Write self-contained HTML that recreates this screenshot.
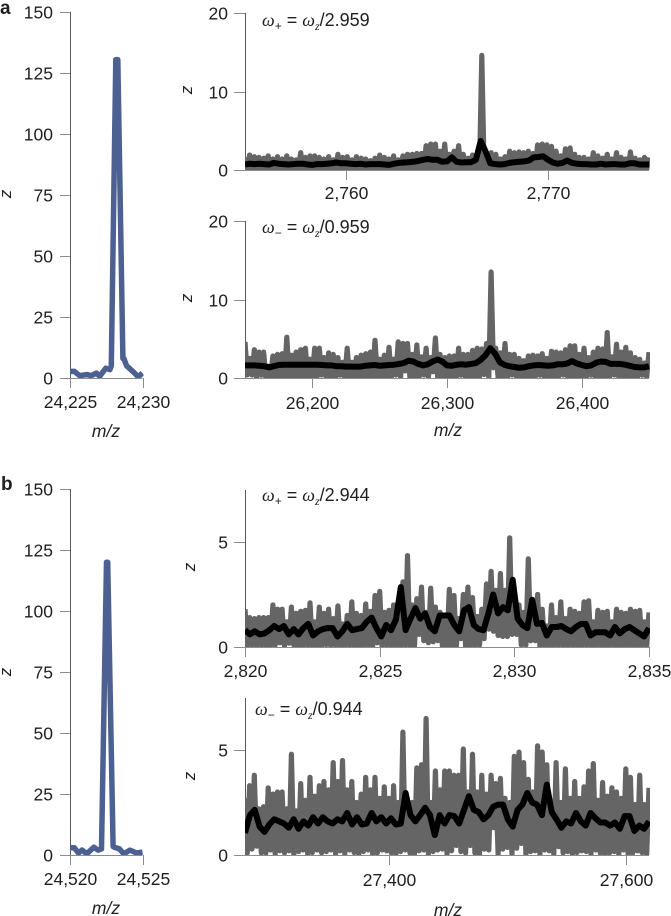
<!DOCTYPE html>
<html lang="en">
<head>
<meta charset="utf-8">
<title>Spectra panels a and b</title>
<style>
html,body{margin:0;padding:0;background:#fff;width:671px;height:916px;overflow:hidden}
svg{display:block}
text{font-family:"Liberation Sans",Arial,sans-serif;fill:#1f1f1f}
.anno{font-size:18px}
.om{font-family:"Liberation Serif",serif;font-style:italic}
.sub{font-size:12px}
</style>
</head>
<body>
<svg id="fig" xmlns="http://www.w3.org/2000/svg" width="671" height="916" viewBox="0 0 671 916">
  <text x="0" y="14" font-size="19" font-weight="700" fill="#000">a</text>
  <text x="1" y="490" font-size="19" font-weight="700" fill="#000">b</text>

  <text class="anno" x="262" y="26"><tspan class="om">ω</tspan><tspan class="sub" dy="4">+</tspan><tspan dy="-4"> = </tspan><tspan class="om">ω</tspan><tspan class="sub om" dy="4">z</tspan><tspan dy="-4">/2.959</tspan></text>
  <text class="anno" x="262" y="233"><tspan class="om">ω</tspan><tspan class="sub" dy="4">−</tspan><tspan dy="-4"> = </tspan><tspan class="om">ω</tspan><tspan class="sub om" dy="4">z</tspan><tspan dy="-4">/0.959</tspan></text>
  <text class="anno" x="262" y="501"><tspan class="om">ω</tspan><tspan class="sub" dy="4">+</tspan><tspan dy="-4"> = </tspan><tspan class="om">ω</tspan><tspan class="sub om" dy="4">z</tspan><tspan dy="-4">/2.944</tspan></text>
  <text class="anno" x="255" y="715"><tspan class="om">ω</tspan><tspan class="sub" dy="4">−</tspan><tspan dy="-4"> = </tspan><tspan class="om">ω</tspan><tspan class="sub om" dy="4">z</tspan><tspan dy="-4">/0.944</tspan></text>
</svg>
<script>
// Left panels: m/z and intensity
const aLeftMz = [24225,24225.3,24225.66,24226.17,24226.47,24226.82,24227.05,24227.47,24227.75,24227.85,24228.16,24228.3,24228.65,24228.72,24228.9,24229.37,24229.7,24230];
const aLeftZ = [2.7,2.7,1,1.4,1,2,.7,4,3.4,5,130.5,130.5,8,8,5,2.5,.5,2];
const bLeftMz = [24520,24520.3,24520.58,24520.83,24521.16,24521.64,24521.94,24522.17,24522.52,24522.6,24522.97,24523.13,24523.39,24523.71,24524.13,24524.6,24525];
const bLeftZ = [3,3,.8,2,.5,3.2,2,2.5,120,120,3.5,3,2.6,.5,2,.8,1.2];

// Panel a, omega plus
const aPlusHigh = [1.6,1.9,1.7,1.6,1.5,1.8,1.4,1.7,1.4,1.8,1.4,1.3,2.2,1.6,1.8,1.8,1.6,1.4,1.7,1.3,2,1.6,1.7,1.3,1.7,1.5,1.4,1.2,1.5,1.9,1.6,1.4,1.8,1.3,1.8,2,2,2.1,2.1,3.1,3.3,3.3,2.4,3.3,2,2.4,3.1,2,1.5,1.9,2,14.6,2,2.2,2,1.4,1.7,2.4,2.2,2.3,2.2,2.4,2.1,3.2,3.3,3.2,3,2.4,1.8,2.7,2.8,2,1.6,1.6,1.4,2.2,1.8,1.5,2,1.4,2.2,1.6,1.4,2.3,1.5,1.3,1.6,1.6];
const aPlusLow = [.1,.05,.1,.1,.05,.1,.1,.05,.1,.1,.05,.1,.1,.05,.1,.1,.05,.1,.1,.05,.1,.1,.05,.1,.1,.05,.1,.1,.05,.1,.1,.05,.1,.1,.05,.1,.1,.05,.1,.1,.05,.1,.1,.05,.1,.1,.05,.1,.1,.05,.1,.1,.05,.1,.1,.05,.1,.1,.05,.1,.1,.05,.1,.1,.05,.1,.1,.05,.1,.1,.05,.1,.1,.05,.1,.1,.05,.1,.1,.05,.1,.1,.05,.1,.1,.05,.1,.1];
const aPlusMean = [.7,.8,.75,.8,.75,.7,.9,.8,.75,.7,.75,.8,.8,.7,.65,.75,.75,.8,.85,.95,.85,.85,.8,.75,.8,.7,.75,.75,.75,.7,.65,.8,.9,.95,1,1.05,1.15,1.3,1.4,1.3,1.3,1.05,1.1,1.6,1.05,.95,1,1,1.3,3.7,2.4,.85,.75,.7,.75,.9,1,1.05,1.1,1.2,1.6,1.65,1.75,1.3,.95,.8,.9,1.2,.9,.8,.75,.75,.7,.7,.8,.7,.75,.75,.7,.7,.85,.85,.7,.7,.7];

// Panel a, omega minus
const aMinusHigh = [4.6,2.5,3.6,3.3,3.3,1.5,2.8,3,3.1,5.2,2.9,3.3,3.6,3.8,2.4,3.8,3.8,2.6,3.2,3,2.6,2,3.8,2,2.6,2.9,3.1,3.3,4.8,2.4,2.9,3.9,2.4,4.6,4.4,4.4,3,4.2,2.7,3.8,2.6,5.1,3,2.6,2.8,2.8,3.8,3,3,3.5,3.8,3.7,4.4,13.5,3.8,3.2,4.4,3,3,2.5,2.2,2.8,2.9,2.8,3.1,2.5,3.4,3.3,3.2,3.6,4.1,4.1,3,3.8,2.6,3.3,3.8,3.7,5.8,2.7,4.3,3.3,3.9,3.2,2.6,2.4,1.9,3.3];
const aMinusLow = [.4,.38,.1,.36,.1,.1,.1,.1,.1,.1,.1,.1,.1,.1,.1,.1,.38,.1,.1,.1,.36,.1,.1,.1,.1,.1,.1,.1,.1,.1,.1,.1,.38,.1,.9,.1,.1,.1,.38,.1,.8,.1,.1,.1,.1,.1,.36,.1,.1,.1,.1,.45,.1,1.3,.1,.1,.1,.38,.1,.1,.1,.1,.1,.36,.1,.1,.1,.1,.38,.1,.1,.1,.1,.1,.36,.1,.1,.1,.1,.38,.1,.1,.1,.1,.1,.36,.1,.1];
const aMinusMean = [1.6,1.6,1.6,1.55,1.5,1.35,1.5,1.65,1.7,1.7,1.7,1.7,1.7,1.7,1.7,1.7,1.65,1.6,1.6,1.5,1.5,1.45,1.45,1.45,1.45,1.55,1.6,1.65,1.55,1.6,1.65,1.7,1.8,1.9,2.2,2.1,1.8,1.6,1.75,2.1,2.35,2.1,1.6,1.55,1.7,1.75,1.7,1.8,1.9,2.3,2.9,3.8,3.1,2,1.65,1.5,1.4,1.3,1.35,1.5,1.6,1.65,1.6,1.55,1.6,1.75,1.75,1.85,2.15,1.85,1.65,1.5,1.6,1.95,2.1,2.05,1.8,1.8,1.8,1.7,1.55,1.4,1.35,1.35,1.5];

// Panel b, omega plus
const bPlusHigh = [1.8,1.4,1.35,1.4,1.4,1.4,2,1.8,1.8,1.2,1.9,1.6,1.7,1.75,2.1,1.2,1.9,1.6,1.8,1.35,1.95,1.1,1.5,2.15,1.6,1.5,2.05,1.7,2.45,2.65,1.65,1.75,2,1.6,3.1,4.35,2,2.3,2.85,1.65,2.8,1.9,1.65,1.4,2.75,2.45,1.35,2.5,2.85,2.35,1.45,1.8,3,3.6,2.7,3.5,2.7,5.2,2.05,2,1.65,4.2,1.8,2.5,1.8,1,2,1.4,2.15,1.35,1.8,1.7,1.6,2.15,2.2,1.2,1.75,1.65,1.7,1.2,1.8,1.65,1.6,1.8,1.7,1.75,1.2,1.65];
const bPlusLow = [.05,.1,.05,.1,.05,.05,.1,.2,.05,.18,.1,.05,.05,.1,.05,.05,.05,.12,.05,.1,.05,.05,.1,.05,.05,.05,.1,.05,.2,.05,.1,.05,.1,.05,.1,.05,.05,.6,.3,.2,.25,.3,.05,.05,.05,.05,.4,.05,.05,.05,.1,.4,.85,.75,.55,.5,.5,.6,.6,.1,.1,.3,.3,.05,.1,.05,.05,.1,.05,.05,.1,.05,.05,.1,.05,.05,.1,.05,.05,.1,.05,.05,.1,.05,.05,.1,.05,.05];
const bPlusMean = [.8,.6,.75,.6,.65,.8,1,.85,1,.6,.85,.6,.9,1.1,.55,.75,.85,.9,.9,.5,.75,1.1,.8,.85,.9,1.2,1.4,.9,.5,1.05,.8,1.3,2.85,.8,1.35,1.85,1.35,1.6,.95,.75,1.5,1.5,1.5,1.05,.75,1.75,1.9,1.05,.85,.8,1.6,2.5,1.6,1.9,1.75,3.2,1.35,1.05,.9,2.25,1.1,1.15,.55,.95,.95,1,.85,.75,.95,1.1,1.1,.55,.7,.7,.7,.55,.95,.65,.85,.95,.8,.65,.5,.9];

// Panel b, omega minus
const bMinusHigh = [2.7,3.3,3.8,2.2,2.3,3.2,2.9,3,3,2.2,4.8,2.1,3.4,2.6,3.7,2.8,3.3,3.5,3.1,4.4,3.5,4.5,3.1,3.5,2.5,2.9,3.7,3.1,3.7,2.7,3.25,2.7,3.3,2.5,5.85,2.4,2.5,4.15,4.3,6.5,2.5,4,3.1,4,4,3.8,3.8,5.05,3,4.8,3,3.8,2.9,3.8,3.4,3.65,2.7,2.5,4.7,4.9,4.4,3.6,3,5.2,4.9,4.3,2.2,4.4,2.5,4.1,2.7,3.5,2.7,3.25,4,4.35,2.6,3.45,2.8,3.2,3,2.7,4.1,3.7,2.4,3.8,2.4,3.2];
const bMinusLow = [.1,.28,.42,.1,.1,.24,.05,.2,.1,.2,.05,.16,.24,.05,.12,.24,.1,.16,.24,.05,.2,.05,.24,.12,.05,.16,.24,.05,.1,.24,.2,.1,.05,.16,.24,.1,.05,.2,.24,.05,.16,.24,.28,.05,.2,.45,.16,.1,.45,.1,.05,.28,.24,1.3,.05,.28,.36,.05,.32,.55,.05,.16,.2,.05,.24,.2,.05,.4,.1,.16,.05,.12,.2,.16,.05,.24,.1,.05,.1,.16,.05,.24,.05,.1,.2,.12,.05,.16];
const bMinusMean = [1.05,1.9,2.15,1.35,1.1,1.45,1.7,1.6,1.5,1.3,1.7,1.25,1.6,1.4,1.8,1.5,1.8,1.6,1.5,1.7,1.6,2,1.45,1.8,1.45,1.5,2,1.6,1.8,1.5,1.75,1.45,1.5,2.95,1.9,1.6,1.9,2.25,1.9,.95,1.9,1.5,1.9,1.85,1.5,2.15,2.8,2.15,2.05,1.7,1.9,2.3,2.4,2.4,1.7,1.35,2.15,2.4,2.95,2.5,2.4,1.9,3.35,2.05,1.7,1.3,1.6,1.5,2,1.6,1.4,2,1.75,1.55,1.55,1.4,1.55,1.25,1.85,1.85,1.15,1.4,1.25,1.6];

// Tick labels
const leftYTicks = [0,25,50,75,100,125,150];
const aLeftXTicks = [24225,24230];
const bLeftXTicks = [24520,24525];
const aRightYTicks = [0,10,20];
const bRightYTicks = [0,5];
const aPlusXTicks = [2760,2770];
const aMinusXTicks = [26200,26300,26400];
const bPlusXTicks = [2820,2825,2830,2835];
const bMinusXTicks = [27400,27600];

const NS = 'http://www.w3.org/2000/svg';
const fig = document.getElementById('fig');
const AXIS = '#5a5a5a', TICK = '#8c8c8c';

function fmt(n){ return String(n).replace(/\B(?=(\d{3})+$)/g, ','); }

function seg(x1,y1,x2,y2,color,name){
  const l = document.createElementNS(NS,'line');
  l.setAttribute('x1',x1); l.setAttribute('y1',y1);
  l.setAttribute('x2',x2); l.setAttribute('y2',y2);
  l.setAttribute('stroke',color); l.setAttribute('stroke-width',1);
  
  
  fig.appendChild(l);
}
function label(x,y,str,anchor,name,opts){
  const t = document.createElementNS(NS,'text');
  t.setAttribute('x',x); t.setAttribute('y',y);
  t.setAttribute('text-anchor',anchor);
  t.setAttribute('font-size',(opts&&opts.size)||17.5);
  if(opts&&opts.italic) t.setAttribute('font-style','italic');
  if(opts&&opts.rotate) t.setAttribute('transform','rotate(-90 '+x+' '+y+')');
  t.textContent = str;
  
  
  fig.appendChild(t);
}
function trace(d,color,width,clip,name){
  const p = document.createElementNS(NS,'path');
  p.setAttribute('d',d);
  p.setAttribute('fill','none');
  p.setAttribute('stroke',color);
  p.setAttribute('stroke-width',width);
  p.setAttribute('stroke-linejoin','round');
  p.setAttribute('clip-path','url(#'+clip+')');
  
  
  fig.appendChild(p);
}
let clipCount = 0;
function makeClip(x,y,w,h){
  const id = 'clip'+(clipCount++);
  const c = document.createElementNS(NS,'clipPath');
  c.setAttribute('id',id);
  const r = document.createElementNS(NS,'rect');
  r.setAttribute('x',x); r.setAttribute('y',y);
  r.setAttribute('width',w); r.setAttribute('height',h);
  c.appendChild(r);
  fig.appendChild(c);
  return id;
}

function axes(p){
  const sx = v => p.x0 + (v-p.xMin)/(p.xMax-p.xMin)*(p.x1-p.x0);
  const sy = v => p.y0 - v*p.yScale;
  seg(p.x0+.5,p.yTop,p.x0+.5,p.y0,AXIS,p.id+'-y-axis');
  seg(p.x0-p.tick,p.y0+.5,p.x1,p.y0+.5,TICK,p.id+'-x-axis');
  p.yTicks.forEach(v=>{
    const y = Math.round(sy(v))+.5;
    seg(p.x0-p.tick,y,p.x0,y,TICK,p.id+'-y-tick');
    label(p.yLabelX,y+6,String(v),'end',p.id+'-y-tick-label');
  });
  p.xTicks.forEach(v=>{
    const x = Math.round(sx(v))+.5;
    seg(x,p.y0,x,p.y0+10,TICK,p.id+'-x-tick');
    label(x,p.y0+p.xLabelDy,fmt(v),'middle',p.id+'-x-tick-label');
  });
  label(p.zX,p.zY,'z','middle',p.id+'-y-axis-title',{italic:true,rotate:true,size:17});
  if(p.mzY) label(p.mzX,p.mzY,'m/z','middle',p.id+'-x-axis-title',{italic:true});
  return {sx,sy};
}

function leftPanel(p,mz,z){
  const s = axes(p);
  const clip = makeClip(p.x0,p.yTop-5,p.x1-p.x0+1,p.y0-p.yTop+5);
  const d = mz.map((m,i)=>(i?'L':'M')+s.sx(m).toFixed(1)+' '+s.sy(z[i]).toFixed(1)).join('');
  trace(d,'#4c6191',5.5,clip,p.id+'-intensity-trace');
}

function rightPanel(p,high,low,mean){
  const s = axes(p);
  const clip = makeClip(p.x0,p.yTop-10,p.x1-p.x0+1,p.y0-p.yTop+10);
  const step = (p.x1-p.x0)/(high.length-1);
  let d = '';
  high.forEach((h,i)=>{
    const x = p.x0+i*step;
    d += (i?'L':'M')+x.toFixed(1)+' '+s.sy(h).toFixed(1);
    if(i<high.length-1) d += 'L'+(x+step/2).toFixed(1)+' '+s.sy(low[i]).toFixed(1);
  });
  trace(d,'#656565',5.2,clip,p.id+'-raw-trace');
  const st = (p.x1-p.x0)/(mean.length-1);
  const m = mean.map((v,i)=>(i?'L':'M')+(p.x0+i*st).toFixed(1)+' '+s.sy(v).toFixed(1)).join('');
  trace(m,'#000',6,clip,p.id+'-smoothed-trace');
}

leftPanel({id:'a-left',x0:70,x1:142.5,xMin:24225,xMax:24230,y0:378,yTop:12,yScale:2.44,tick:10,yLabelX:53,xLabelDy:30,yTicks:leftYTicks,xTicks:aLeftXTicks,zX:11,zY:194,mzX:106,mzY:437},aLeftMz,aLeftZ);
leftPanel({id:'b-left',x0:70,x1:142.5,xMin:24520,xMax:24525,y0:855,yTop:489,yScale:2.44,tick:10,yLabelX:53,xLabelDy:30,yTicks:leftYTicks,xTicks:bLeftXTicks,zX:11,zY:672,mzX:106,mzY:914},bLeftMz,bLeftZ);
rightPanel({id:'a-plus',x0:245,x1:649,xMin:2755,xMax:2775,y0:170,yTop:13,yScale:7.85,tick:11,yLabelX:228,xLabelDy:29,yTicks:aRightYTicks,xTicks:aPlusXTicks,zX:192,zY:90},aPlusHigh,aPlusLow,aPlusMean);
rightPanel({id:'a-minus',x0:245,x1:649,xMin:26150,xMax:26450,y0:378,yTop:221,yScale:7.85,tick:11,yLabelX:228,xLabelDy:31,yTicks:aRightYTicks,xTicks:aMinusXTicks,zX:192,zY:298,mzX:448,mzY:436},aMinusHigh,aMinusLow,aMinusMean);
rightPanel({id:'b-plus',x0:245,x1:649,xMin:2820,xMax:2835,y0:647,yTop:490,yScale:21,tick:11,yLabelX:228,xLabelDy:30,yTicks:bRightYTicks,xTicks:bPlusXTicks,zX:195,zY:567},bPlusHigh,bPlusLow,bPlusMean);
rightPanel({id:'b-minus',x0:245,x1:649,xMin:27279,xMax:27619,y0:855,yTop:698,yScale:21,tick:11,yLabelX:228,xLabelDy:31,yTicks:bRightYTicks,xTicks:bMinusXTicks,zX:195,zY:776,mzX:448,mzY:916},bMinusHigh,bMinusLow,bMinusMean);
</script>
</body>
</html>
